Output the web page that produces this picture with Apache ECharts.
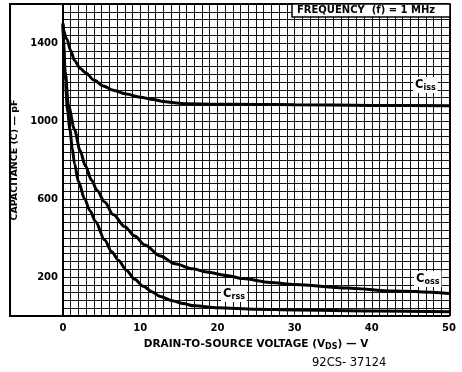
<!DOCTYPE html>
<html><head><meta charset="utf-8">
<script src="https://cdn.jsdelivr.net/npm/echarts@6/dist/echarts.min.js"></script>
<style>html,body{margin:0;padding:0;background:#fff}#c{width:462px;height:372px}</style>
</head><body><div id="c"></div>
<script>
// Drain-to-source voltage (V) and capacitance (pF)
const cissV = [0, 0.5, 1, 1.5, 2.2, 3, 4, 5.2, 6.5, 8.2, 10, 11.7, 13, 14.7, 16, 20, 25, 30, 40, 50];
const cissC = [1480, 1420, 1360, 1310, 1270, 1245, 1210, 1180, 1158, 1138, 1122, 1110, 1100, 1092, 1088, 1086, 1085, 1083, 1080, 1078];

const cossV = [0, 0.3, 0.7, 1.5, 2.2, 2.9, 3.7, 4.4, 5.4, 6.5, 8, 9.3, 10.6, 12.6, 14.5, 16.8, 18.6, 21.2, 23.3, 26.8, 30, 36.7, 42.8, 50];
const cossC = [1500, 1250, 1080, 955, 850, 770, 697, 645, 585, 520, 458, 410, 364, 308, 268, 242, 226, 208, 192, 172, 162, 144, 128, 116];

const crssV = [0, 0.3, 0.6, 0.9, 1.2, 1.5, 2, 2.8, 3.5, 4.2, 5.4, 6.3, 7.2, 8.2, 9.3, 10.4, 11.5, 12.6, 14, 15.5, 17, 20, 25, 30, 40, 50];
const crssC = [1500, 1200, 1050, 954, 860, 780, 690, 600, 540, 485, 390, 330, 285, 235, 188, 152, 125, 100, 80, 64, 52, 42, 35, 31, 26, 22];

const xTickLabels = [0, 10, 20, 30, 40, 50];
const yTickLabels = [200, 600, 1000, 1400];

const FONT = 'DejaVu Sans';
const zip = (a, b) => a.map((v, i) => [v, b[i]]);

const chart = echarts.init(document.getElementById('c'), null, {renderer: 'canvas'});

const lineSeries = (name, data) => ({
  name, type: 'line', data, smooth: 0.3, smoothMonotone: 'x', symbol: 'none',
  lineStyle: {color: '#000', width: 3}, z: 5, silent: true
});

const subLabel = (main, sub) => ({
  type: 'text',
  style: {
    rich: {
      m: {fontFamily: FONT, fontWeight: 'bold', fontSize: 11.5, fill: '#000'},
      s: {fontFamily: FONT, fontWeight: 'bold', fontSize: 8, fill: '#000', padding: [6, 0, 0, 0]}
    },
    text: '{m|' + main + '}{s|' + sub + '}',
    backgroundColor: '#fff',
    padding: [1, 2, 1, 2]
  },
  z: 10
});

chart.setOption({
  backgroundColor: '#fff',
  animation: false,
  grid: {left: 63, right: 13, top: 4, bottom: 56},
  xAxis: {
    type: 'value', min: 0, max: 50, interval: 1,
    name: '{t|DRAIN-TO-SOURCE VOLTAGE (V}{s|DS}{t|) — V}',
    nameLocation: 'middle', nameGap: 22,
    nameTextStyle: {
      rich: {
        t: {fontFamily: FONT, fontWeight: 'bold', fontSize: 10.5, color: '#000'},
        s: {fontFamily: FONT, fontWeight: 'bold', fontSize: 8, color: '#000', padding: [5, 0, 0, 0]}
      }
    },
    axisLine: {show: true, lineStyle: {color: '#000', width: 2}},
    axisTick: {show: false},
    axisLabel: {
      margin: 7, color: '#000', fontFamily: FONT, fontWeight: 'bold', fontSize: 10,
      formatter: v => xTickLabels.indexOf(v) >= 0 ? String(v) : ''
    },
    splitLine: {show: true, lineStyle: {color: '#111', width: 1}}
  },
  yAxis: {
    type: 'value', min: 0, max: 1600, interval: 40,
    name: 'CAPACITANCE (C) — pF',
    nameLocation: 'middle', nameGap: 38, nameRotate: 90,
    nameTextStyle: {fontFamily: FONT, fontWeight: 'bold', fontSize: 9.5, color: '#000'},
    axisLine: {show: true, lineStyle: {color: '#000', width: 2}},
    axisTick: {show: false},
    axisLabel: {
      margin: 5, color: '#000', fontFamily: FONT, fontWeight: 'bold', fontSize: 10,
      formatter: v => yTickLabels.indexOf(v) >= 0 ? String(v) : ''
    },
    splitLine: {show: true, lineStyle: {color: '#111', width: 1}}
  },
  series: [
    lineSeries('Ciss', zip(cissV, cissC)),
    lineSeries('Coss', zip(cossV, cossC)),
    lineSeries('Crss', zip(crssV, crssC))
  ]
});

// decorations: outer frame, frequency box, curve labels, figure code
chart.setOption({
  graphic: [
    {type: 'polyline', shape: {points: [[63, 4], [10, 4], [10, 316], [63, 316]]},
     style: {stroke: '#000', lineWidth: 2, fill: null}, z: 8},
    {type: 'line', shape: {x1: 63, y1: 4, x2: 450, y2: 4}, style: {stroke: '#000', lineWidth: 2}, z: 8},
    {type: 'line', shape: {x1: 450, y1: 4, x2: 450, y2: 316}, style: {stroke: '#000', lineWidth: 2}, z: 8},
    {type: 'rect', shape: {x: 292, y: 4, width: 158, height: 13},
     style: {fill: '#fff', stroke: '#000', lineWidth: 1.5}, z: 9},
    {type: 'text', left: 297, top: 5,
     style: {text: 'FREQUENCY  (f) = 1 MHz', fontFamily: FONT, fontWeight: 'bold', fontSize: 10, fill: '#000'}, z: 10},
    Object.assign(subLabel('C', 'iss'), {left: 413, top: 77}),
    Object.assign(subLabel('C', 'oss'), {left: 414, top: 271}),
    Object.assign(subLabel('C', 'rss'), {left: 221, top: 286}),
    {type: 'text', left: 312, top: 357,
     style: {text: '92CS- 37124', fontFamily: FONT, fontSize: 11.5, fill: '#000'}, z: 10}
  ]
});
</script>
</body></html>
